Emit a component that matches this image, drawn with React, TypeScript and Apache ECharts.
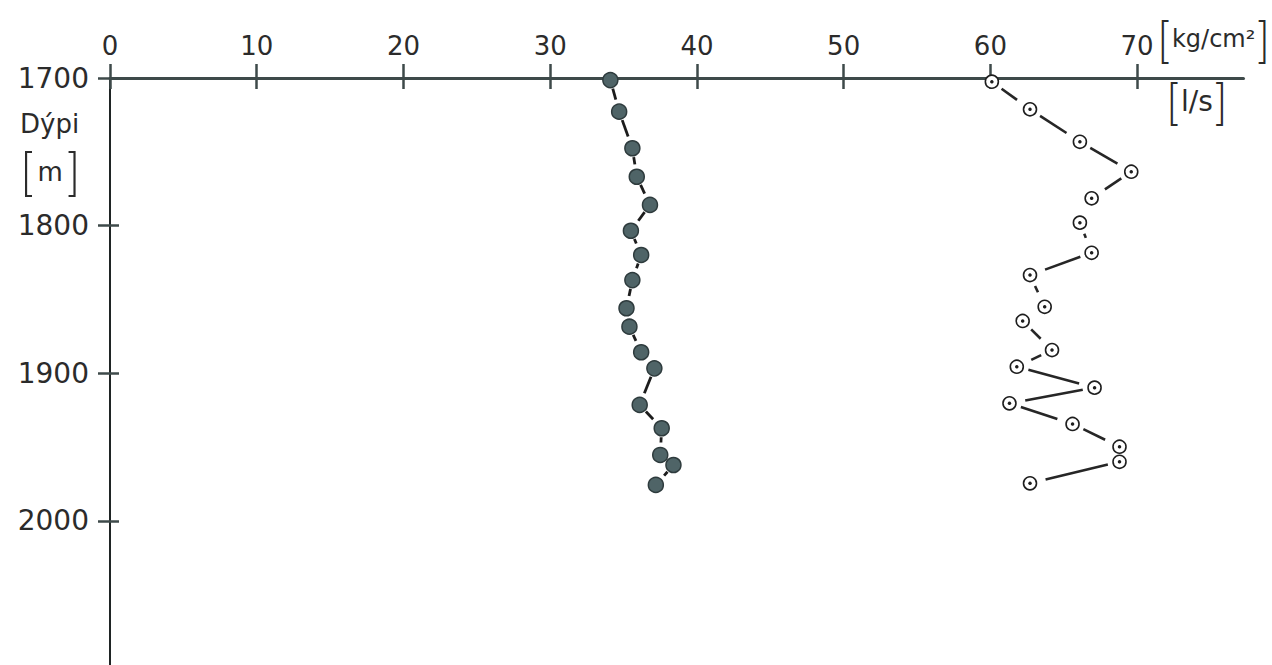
import React, { useEffect, useRef } from "react";
import * as echarts from "echarts";

// Tick labels
const xTicks = [0, 10, 20, 30, 40, 50, 60, 70];
const yTicks = [1700, 1800, 1900, 2000];

// Series 1: filled dots (short dash links)
const pressureDepth = [1701.4, 1722.8, 1747.6, 1766.9, 1786, 1803.5, 1819.9, 1836.9, 1856, 1868.5, 1885.8, 1896.7, 1921.5, 1937.3, 1955.4, 1962.2, 1975.7];
const pressureValue = [34.1, 34.7, 35.6, 35.9, 36.8, 35.5, 36.2, 35.6, 35.2, 35.4, 36.2, 37.1, 36.1, 37.6, 37.5, 38.4, 37.2];

// Series 2: open circles with centre dot
const flowDepth = [1702.5, 1721.2, 1743.2, 1763.5, 1781.5, 1798, 1818.4, 1833.5, 1855, 1864.6, 1884.3, 1895.6, 1909.8, 1920.4, 1934.4, 1949.8, 1960, 1974.6];
const flowValue = [60.1, 62.7, 66.1, 69.6, 66.9, 66.1, 66.9, 62.7, 63.7, 62.2, 64.2, 61.8, 67.1, 61.3, 65.6, 68.8, 68.8, 62.7];

const font = "'DejaVu Sans', sans-serif";
const thin = "Inter, 'DejaVu Sans', sans-serif";
const ink = "#2b2b2b";
const xLine = "#3e4a4a";
const yLine = "#1f2424";

function links(xs: number[], ys: number[]) {
  const out: number[][] = [];
  for (let i = 0; i < xs.length - 1; i++) out.push([xs[i], ys[i], xs[i + 1], ys[i + 1]]);
  return out;
}

function gappedLink(gapStart: number, gapEnd: number, stroke: string, width: number) {
  return (_params: any, api: any) => {
    const a = api.coord([api.value(0), api.value(1)]);
    const b = api.coord([api.value(2), api.value(3)]);
    const dx = b[0] - a[0];
    const dy = b[1] - a[1];
    const d = Math.hypot(dx, dy);
    if (d <= gapStart + gapEnd + 2) return { type: "group", children: [] };
    const ux = dx / d;
    const uy = dy / d;
    return {
      type: "line",
      shape: { x1: a[0] + ux * gapStart, y1: a[1] + uy * gapStart, x2: b[0] - ux * gapEnd, y2: b[1] - uy * gapEnd },
      style: { stroke, lineWidth: width, lineCap: "butt" },
    };
  };
}

export default function App() {
  const ref = useRef<HTMLDivElement>(null);

  useEffect(() => {
    if (!ref.current) return;
    const chart = echarts.init(ref.current, null, { renderer: "svg" });
    const pressure = pressureValue.map((v, i) => [v, pressureDepth[i]]);
    const flow = flowValue.map((v, i) => [v, flowDepth[i]]);

    const xBase = {
      type: "value" as const,
      position: "top" as const,
      min: 0,
      max: 77.25,
      splitLine: { show: false },
    };
    const yBase = {
      type: "value" as const,
      position: "left" as const,
      inverse: true,
      min: 1700,
      max: 2100,
      splitLine: { show: false },
    };
    const quiet = { silent: true, clip: false, emphasis: { disabled: true } };

    chart.setOption({
      animation: false,
      backgroundColor: "#ffffff",
      grid: { left: 110, top: 78, width: 1133.5, height: 590.4, outerBoundsMode: "none" },
      xAxis: [
        {
          ...xBase,
          axisLine: { show: true, lineStyle: { color: xLine, width: 3 } },
          axisTick: { show: true, inside: false, length: 14, customValues: xTicks, lineStyle: { color: xLine, width: 2.5 } },
          axisLabel: { show: true, customValues: xTicks, margin: 19, fontSize: 26, color: ink, fontFamily: font, formatter: (v: number) => String(v) },
        },
        {
          ...xBase,
          axisLine: { show: true, lineStyle: { color: "rgba(0,0,0,0)", width: 0 } },
          axisTick: { show: true, inside: true, length: 11, customValues: xTicks, lineStyle: { color: xLine, width: 2.5 } },
          axisLabel: { show: false },
        },
      ],
      yAxis: [
        {
          ...yBase,
          axisLine: { show: true, lineStyle: { color: yLine, width: 2 } },
          axisTick: { show: true, inside: false, length: 12, customValues: yTicks, lineStyle: { color: xLine, width: 2.5 } },
          axisLabel: { show: true, customValues: yTicks, margin: 21, fontSize: 28, color: ink, fontFamily: font, formatter: (v: number) => String(v) },
        },
        {
          ...yBase,
          axisLine: { show: true, lineStyle: { color: "rgba(0,0,0,0)", width: 0 } },
          axisTick: { show: true, inside: true, length: 9, customValues: yTicks, lineStyle: { color: xLine, width: 2.5 } },
          axisLabel: { show: false },
        },
      ],
      series: [
        {
          type: "custom",
          name: "pressure-link",
          data: links(pressureValue, pressureDepth),
          encode: { x: [0, 2], y: [1, 3] },
          renderItem: gappedLink(9, 12.5, "#1c1c1c", 2.8),
          z: 1,
          ...quiet,
        },
        {
          type: "custom",
          name: "flow-link",
          data: links(flowValue, flowDepth),
          encode: { x: [0, 2], y: [1, 3] },
          renderItem: gappedLink(12, 16, "#262626", 2.6),
          z: 1,
          ...quiet,
        },
        {
          type: "scatter",
          name: "pressure",
          data: pressure,
          symbol: "circle",
          symbolSize: 15,
          itemStyle: { color: "#4f6467", borderColor: "#2e3b3d", borderWidth: 1.5, opacity: 1 },
          z: 4,
          ...quiet,
        },
        {
          type: "scatter",
          name: "flow",
          data: flow,
          symbol: "circle",
          symbolSize: 13,
          itemStyle: { color: "#ffffff", borderColor: "#1e1e1e", borderWidth: 1.6, opacity: 1 },
          z: 4,
          ...quiet,
        },
        {
          type: "scatter",
          name: "flow-centre",
          data: flow,
          symbol: "circle",
          symbolSize: 3.5,
          itemStyle: { color: "#1e1e1e", opacity: 1 },
          z: 5,
          ...quiet,
        },
      ],
      graphic: [
        {
          type: "text",
          x: 1156,
          y: 39,
          silent: true,
          style: {
            text: "{b|[}{t|kg/cm²}{b|]}",
            align: "left",
            verticalAlign: "middle",
            fill: ink,
            fontFamily: font,
            rich: {
              b: { fontSize: 48, fontFamily: thin, fontWeight: 200, fill: ink },
              t: { fontSize: 24, fontFamily: font, fill: ink },
            },
          },
        },
        {
          type: "text",
          x: 1165,
          y: 101,
          silent: true,
          style: {
            text: "{b|[}{t|l/s}{b|]}",
            align: "left",
            verticalAlign: "middle",
            fill: ink,
            fontFamily: font,
            rich: {
              b: { fontSize: 48, fontFamily: thin, fontWeight: 200, fill: ink },
              t: { fontSize: 28, fontFamily: font, fill: ink },
            },
          },
        },
        {
          type: "text",
          x: 20,
          y: 124,
          silent: true,
          style: { text: "Dýpi", align: "left", verticalAlign: "middle", fill: ink, fontFamily: font, fontSize: 26 },
        },
        {
          type: "text",
          x: 19,
          y: 172,
          silent: true,
          style: {
            text: "{b|[}{t|m}{b|]}",
            align: "left",
            verticalAlign: "middle",
            fill: ink,
            fontFamily: font,
            rich: {
              b: { fontSize: 50, fontFamily: thin, fontWeight: 200, fill: ink },
              t: { fontSize: 26, fontFamily: font, fill: ink, padding: [0, 2, 0, 2] },
            },
          },
        },
      ],
    });

    return () => {
      chart.dispose();
    };
  }, []);

  return (
    <div style={{ position: "fixed", left: 0, top: 0, width: 1272, height: 665, overflow: "hidden", background: "#ffffff" }}>
      <div ref={ref} style={{ width: 1272, height: 670 }} />
    </div>
  );
}
